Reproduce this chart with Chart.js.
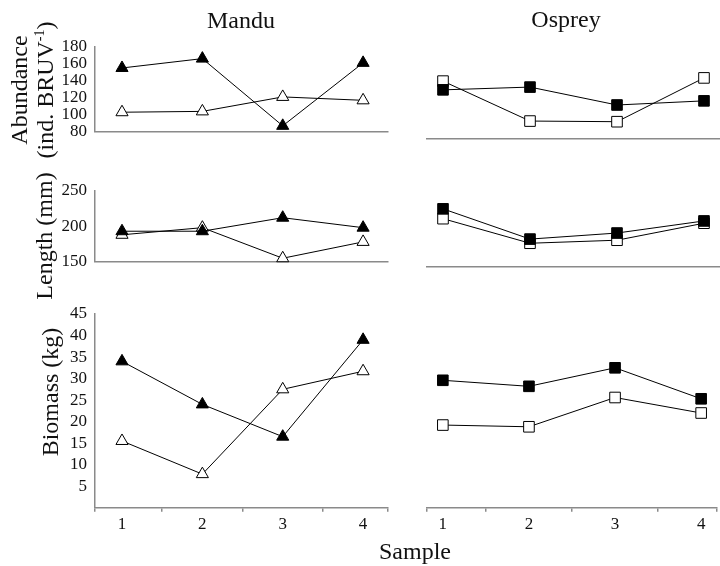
<!DOCTYPE html>
<html><head><meta charset="utf-8">
<script src="https://cdn.jsdelivr.net/npm/chart.js@4.4.0/dist/chart.umd.min.js"></script>
<style>
html,body{margin:0;padding:0;background:#fff;width:720px;height:566px;overflow:hidden;}
#wrap{position:relative;width:720px;height:566px;font-family:"Liberation Serif","Times New Roman",serif;color:#111;}
canvas{position:absolute;}
.t{position:absolute;font-size:24px;line-height:24px;white-space:nowrap;transform:translateX(-50%);}
.rot{position:absolute;font-size:24px;white-space:nowrap;text-align:center;transform:translate(-50%,-50%) rotate(-90deg);}
sup{font-size:14px;line-height:0;vertical-align:9px;}
</style></head>
<body><div id="wrap">
<div class="t" style="left:241px;top:8px;">Mandu</div>
<div class="t" style="left:566px;top:7px;">Osprey</div>
<div class="t" style="left:415px;top:539px;">Sample</div>
<div class="rot" style="left:32px;top:90px;line-height:26px;">Abundance<br>(ind. BRUV<sup>-1</sup>)</div>
<div class="rot" style="left:44px;top:236px;line-height:24px;">Length (mm)</div>
<div class="rot" style="left:50px;top:392px;line-height:24px;">Biomass (kg)</div>
</div>
<script>
// ---- data ----
const samples = [1, 2, 3, 4];
const sampleTicks = [1, 2, 3, 4];
const abundanceTicks = [80, 100, 120, 140, 160, 180];
const lengthTicks = [150, 200, 250];
const biomassTicks = [0, 5, 10, 15, 20, 25, 30, 35, 40, 45];

const manduAbundanceFilled = [155, 166, 87, 161];
const manduAbundanceOpen   = [103, 104, 121, 117];
const ospreyAbundanceFilled = [133, 136, 116.5, 121];
const ospreyAbundanceOpen   = [142.5, 99, 98.3, 146];

const manduLengthFilled = [193, 193, 212, 198];
const manduLengthOpen   = [188, 198, 155, 178];
const ospreyLengthFilled = [226, 186, 194, 210];
const ospreyLengthOpen   = [213, 180.5, 184.5, 207];

const manduBiomassFilled = [34, 24, 16.5, 39];
const manduBiomassOpen   = [15.5, 7.8, 27.5, 31.7];
const ospreyBiomassFilled = [29.6, 28.2, 32.5, 25.3];
const ospreyBiomassOpen   = [19.2, 18.8, 25.6, 22.0];

// ---- drawing ----
const FONT = "'Liberation Serif','Times New Roman',serif";
const AXIS = '#8a8a8a';
const wrap = document.getElementById('wrap');

function pts(vals){ return samples.map((x,i)=>({x:x, y:vals[i]})); }

function panel(o){
  const c = document.createElement('canvas');
  c.width = o.w; c.height = o.h;
  c.style.left = o.left + 'px'; c.style.top = o.top + 'px';
  c.style.width = o.w + 'px'; c.style.height = o.h + 'px';
  wrap.insertBefore(c, wrap.firstChild);
  const padL = o.areaL - o.left - (o.showY ? o.yW : 0);
  const padR = o.left + o.w - o.areaR;
  const padT = o.areaT - o.top;
  const xH = o.top + o.h - o.areaB;
  const ds = (vals, fill) => ({
    data: pts(vals), borderColor:'#000', borderWidth:1, tension:0, clip:false,
    pointStyle:o.style, pointRadius:o.rad, pointHoverRadius:o.rad,
    pointBackgroundColor: fill ? '#000' : '#fff', pointBorderColor:'#000', pointBorderWidth:1
  });
  const xTickVals = [o.xmin, 1, 1.5, 2, 2.5, 3, 3.5, 4, o.xmax];
  new Chart(c.getContext('2d'), {
    type:'line',
    data:{datasets:[ds(o.filled,true), ds(o.open,false)]},
    options:{
      responsive:false, animation:false, devicePixelRatio:1,
      layout:{autoPadding:false, padding:{left:padL, right:padR, top:padT, bottom:0}},
      plugins:{legend:{display:false}, tooltip:{enabled:false}},
      scales:{
        x:{type:'linear', min:o.xmin, max:o.xmax,
          afterBuildTicks:s=>{ s.ticks = xTickVals.map(v=>({value:v})); },
          afterFit:s=>{ s.height = xH; },
          ticks:{display:o.showX, autoSkip:false, maxRotation:0, padding:3, color:'#111',
            font:{family:FONT, size:17},
            callback:v=> sampleTicks.includes(v) ? String(v) : ''},
          grid:{drawOnChartArea:false, drawTicks:o.showX, tickLength:4, lineWidth:1.5,
            tickColor:ctx=> (ctx.tick && sampleTicks.includes(ctx.tick.value)) ? 'rgba(0,0,0,0)' : AXIS,
            color:'rgba(0,0,0,0)'},
          border:{display:true, color:AXIS, width:1.5}
        },
        y:{display:o.showY, min:o.ymin, max:o.ymax,
          afterBuildTicks:s=>{ s.ticks = o.yTicks.map(v=>({value:v})); },
          afterFit:s=>{ if (o.showY) s.width = o.yW; },
          ticks:{autoSkip:false, padding:8, color:'#111', font:{family:FONT, size:17},
            callback:v=> v === 0 ? '' : String(v)},
          grid:{drawOnChartArea:false, drawTicks:false, color:'rgba(0,0,0,0)'},
          border:{display:true, color:AXIS, width:1.5}
        }
      }
    }
  });
}

const L = {left:0, w:400, areaL:95, areaR:388, xmin:0.664, xmax:4.31, showY:true, yW:95, style:'triangle', rad:7};
const R = {left:400, w:320, areaL:427, areaR:720, xmin:0.816, xmax:4.184, showY:false, yW:0, style:'rect', rad:7.5};
const rows = [
  {top:0, h:150, areaT:46.7, areaB:138.5, ymin:80, ymax:180, yTicks:abundanceTicks, showX:false},
  {top:150, h:130, areaT:190.7, areaB:266.3, ymin:150, ymax:250, yTicks:lengthTicks, showX:false},
  {top:280, h:286, areaT:314, areaB:507.7, ymin:0, ymax:45, yTicks:biomassTicks, showX:true}
];
const series = [
  [manduAbundanceFilled, manduAbundanceOpen, ospreyAbundanceFilled, ospreyAbundanceOpen],
  [manduLengthFilled, manduLengthOpen, ospreyLengthFilled, ospreyLengthOpen],
  [manduBiomassFilled, manduBiomassOpen, ospreyBiomassFilled, ospreyBiomassOpen]
];
rows.forEach((row, i) => {
  [L, R].forEach((col, j) => {
    panel({
      left:col.left, w:col.w, top:row.top, h:row.h,
      areaL:col.areaL, areaR:col.areaR, areaT:row.areaT, areaB:row.areaB,
      xmin:col.xmin, xmax:col.xmax, showY:col.showY, yW:col.yW,
      style:col.style, rad:col.rad,
      ymin:row.ymin, ymax:row.ymax, yTicks:row.yTicks, showX:row.showX,
      filled:series[i][j*2], open:series[i][j*2+1]
    });
  });
});
</script>
</body></html>
